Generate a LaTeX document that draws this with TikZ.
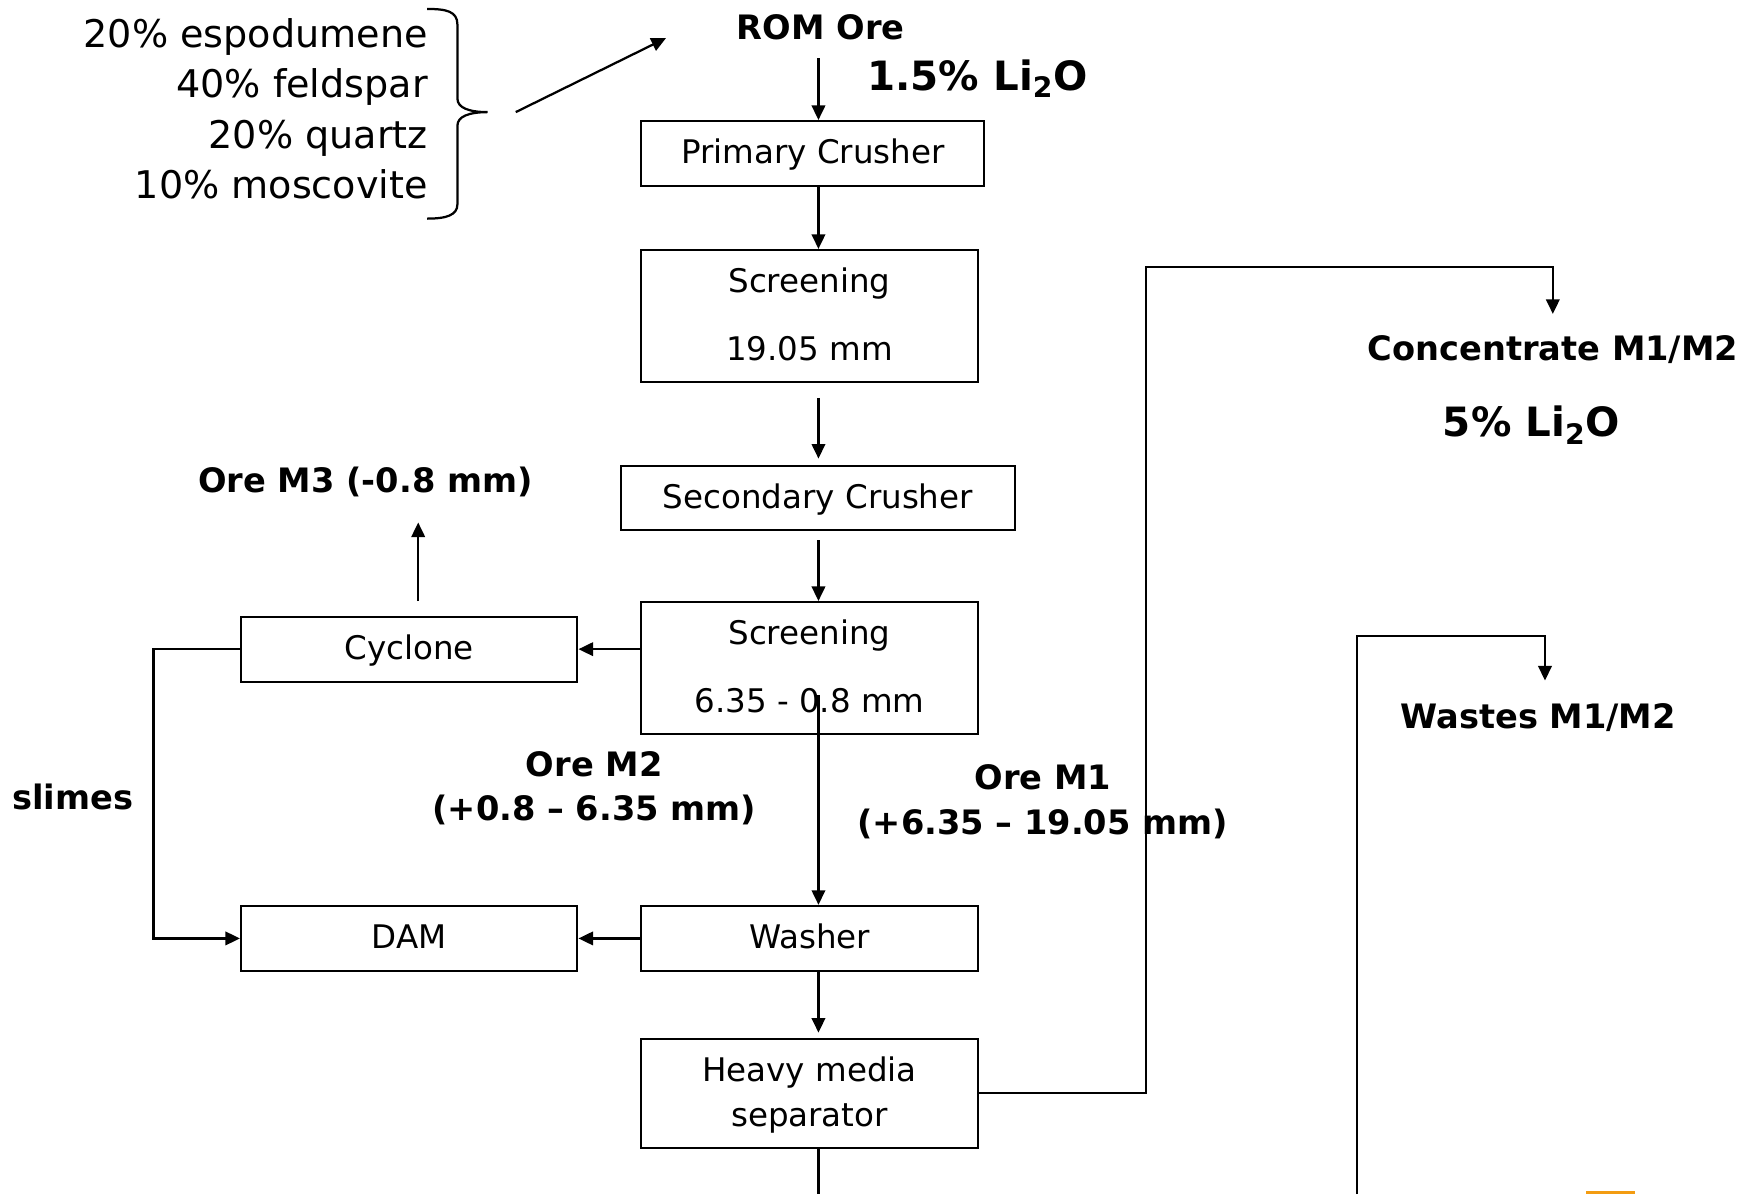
\documentclass[tikz,border=0pt]{standalone}
\usepackage{fontspec}
\setmainfont{DejaVu Sans}
\usetikzlibrary{arrows.meta}
\definecolor{barorange}{RGB}{243,156,18}
\tikzset{
  x=0.5pt, y=-0.5pt,
  box/.style={draw, line width=0.95pt, inner sep=0pt, align=center, font=\fontsize{14.5}{18}\selectfont},
  lbl/.style={inner sep=0pt, align=center, font=\fontsize{15}{20}\selectfont\bfseries},
  big/.style={inner sep=0pt, align=center, font=\fontsize{18}{22}\selectfont\bfseries},
  arr/.style={line width=1pt, -{Triangle[length=6.5pt,width=6pt]}},
  ln/.style={line width=1pt},
}
\begin{document}
\begin{tikzpicture}
\useasboundingbox (0,0) rectangle (1568,1065);
% spine
\coordinate (spine) at (730,0);
% composition
\node[inner sep=0pt, anchor=east, align=right, font=\fontsize{17}{22.5}\selectfont] (comp) at (382,97)
  {20\% espodumene\\40\% feldspar\\20\% quartz\\10\% moscovite};
\draw[line width=1pt] (381,8) .. controls (398,8) and (408,10) .. (408,22) -- (408,88)
  .. controls (408,96) and (418,100) .. (435,100)
  .. controls (418,100) and (408,104) .. (408,112) -- (408,182)
  .. controls (408,192) and (398,195) .. (381,195);
\coordinate (bracetip) at (460,100);
\coordinate (romtarget) at (594,34);
\draw[arr] (bracetip) -- (romtarget);
% top labels
\node[lbl] (rom) at (732,24) {ROM Ore};
\node[big] (li1) at (872,70) {1.5\% Li\textsubscript{2}O};
\coordinate (romout) at (730,52);
% boxes
\node[box, minimum width=153pt, minimum height=29pt, text depth=2pt] (prim) at (725,137) {Primary Crusher};
\node[box, minimum width=150pt, minimum height=59pt, font=\fontsize{14.5}{30.5}\selectfont, text depth=2pt] (scr1) at (722,282) {Screening\\19.05 mm};
\node[box, minimum width=175.5pt, minimum height=28.5pt, text depth=2pt] (sec) at (729.5,444.5) {Secondary Crusher};
\node[box, minimum width=150pt, minimum height=59pt, font=\fontsize{14.5}{30.5}\selectfont, text depth=2pt] (scr2) at (722,596) {Screening\\6.35 - 0.8 mm};
\node[box, minimum width=150pt, minimum height=29pt, text depth=2pt] (cyc) at (365,579) {Cyclone};
\node[box, minimum width=150pt, minimum height=29pt, text depth=2pt] (dam) at (365,837) {DAM};
\node[box, minimum width=150pt, minimum height=29pt, text depth=2pt] (wash) at (722,837) {Washer};
\node[box, minimum width=150pt, minimum height=48.5pt, font=\fontsize{14.5}{20}\selectfont, text depth=2pt] (hms) at (722,975.5) {Heavy media\\separator};
% labels
\node[lbl] (m3) at (326,430) {Ore M3 (-0.8 mm)};
\node[lbl] (slimes) at (65,711) {slimes};
\node[lbl] (m2) at (530,703) {Ore M2\\(+0.8 – 6.35 mm)};
\node[lbl] (m1) at (930,715) {Ore M1\\(+6.35 – 19.05 mm)};
\node[lbl] (conc) at (1385,312) {Concentrate M1/M2};
\node[big] (li2) at (1366,379) {5\% Li\textsubscript{2}O};
\node[lbl] (waste) at (1372,640) {Wastes M1/M2};
% main flow
\draw[arr] (romout) -- (prim.north -| spine);
\draw[arr] (prim.south -| spine) -- (scr1.north -| spine);
\draw[arr, shorten <=6.5pt, shorten >=3pt] (scr1.south -| spine) -- (sec.north -| spine);
\draw[arr, shorten <=4pt] (sec.south -| spine) -- (scr2.north -| spine);
\coordinate (scrin) at (730,620);
\draw[arr] (scrin) -- (wash.north -| spine);
\draw[arr, shorten >=2.5pt] (wash.south -| spine) -- (hms.north -| spine);
\coordinate (hmsdown) at (730,1065);
\draw[ln] (hms.south -| spine) -- (hmsdown);
% cyclone branch
\draw[arr] (scr2.west |- cyc.east) -- (cyc.east);
\coordinate (cycx) at (373,0);
\coordinate (m3tip) at (373,466);
\draw[arr, shorten <=6.5pt] (cyc.north -| cycx) -- (m3tip);
\coordinate (slimesx) at (137,0);
\draw[arr] (cyc.west) -- (cyc.west -| slimesx) -- (dam.west -| slimesx) -- (dam.west);
\draw[arr] (wash.west) -- (dam.east);
% concentrate branch
\coordinate (cturn1) at (1022,975);
\coordinate (cturn2) at (1022,238);
\coordinate (cturn3) at (1385,238);
\coordinate (ctip) at (1385,280);
\draw[arr] (hms.east |- cturn1) -- (cturn1) -- (cturn2) -- (cturn3) -- (ctip);
% wastes branch
\coordinate (wstart) at (1210,1065);
\coordinate (wturn1) at (1210,567);
\coordinate (wturn2) at (1378,567);
\coordinate (wtip) at (1378,607);
\draw[arr] (wstart) -- (wturn1) -- (wturn2) -- (wtip);
% orange bar
\fill[barorange] (1415,1062.5) rectangle (1458,1065);
\end{tikzpicture}
\end{document}
